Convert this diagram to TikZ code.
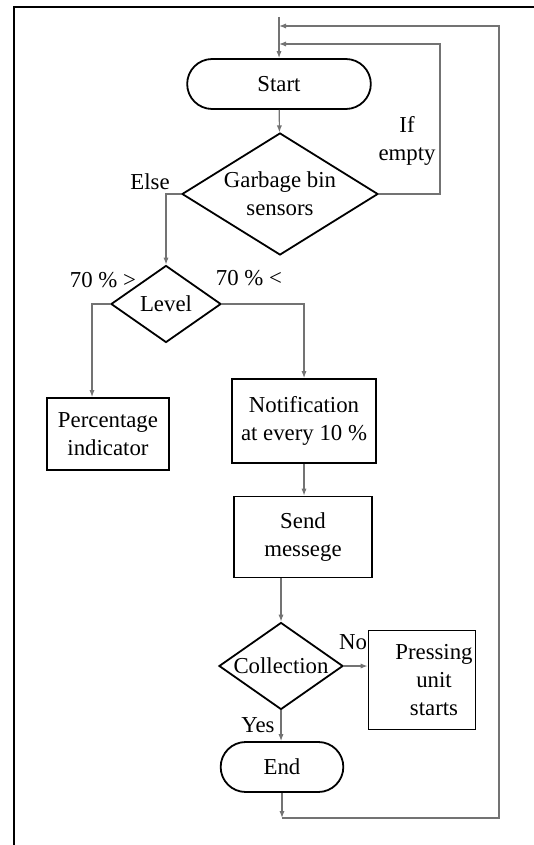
\documentclass[tikz,border=0pt]{standalone}
\usepackage{fontspec}
\setmainfont{Liberation Serif}
\usetikzlibrary{shapes.geometric,shapes.misc,arrows.meta}
\begin{document}
\begin{tikzpicture}[x=0.5pt, y=-0.5pt,
    every node/.style={font=\fontsize{11.4}{14}\selectfont, align=center},
    term/.style={rounded rectangle, draw, line width=0.9pt, minimum height=25pt},
    decision/.style={diamond, draw, line width=0.9pt, inner sep=0pt},
    proc/.style={rectangle, draw, line width=0.9pt},
    flow/.style={draw=black!55, line width=0.6pt},
    tip/.style={-{Latex[length=3.5pt,width=2.6pt]}}]
    \useasboundingbox (0,0) rectangle (534,845);
    \draw[line width=1.3pt] (14,845) -- (14,7) -- (534,7);
    % shapes
    \node[term, minimum width=98.5pt] (start) at (279,84) {Start};
    \node[decision, minimum width=98pt, minimum height=61pt, aspect=1.6] (sensors) at (280,194) {Garbage bin\\sensors};
    \node[decision, minimum width=55pt, minimum height=38.5pt] (level) at (166,304) {Level};
    \node[proc, minimum width=61pt, minimum height=36pt] (percent) at (108,434) {Percentage\\indicator};
    \node[proc, minimum width=72pt, minimum height=42pt] (notif) at (304,421) {Notification\\at every 10 \%};
    \node[proc, minimum width=69pt, minimum height=40.5pt] (send) at (303,537) {Send\\messege};
    \node[decision, minimum width=62pt, minimum height=43.5pt, inner sep=-4pt] (collect) at (281,666) {Collection};
    \node[proc, minimum width=53.5pt, minimum height=49.5pt, inner xsep=0pt] (press) at (422,680)
        {\hspace*{12pt}Pressing\\\hspace*{12pt}unit\\\hspace*{12pt}starts};
    \node[term, minimum width=68pt] (end) at (282,767) {End};
    % labels
    \foreach \name/\pos/\txt in {lelse/{150,182}/Else, lempty/{407,141}/{If\\empty},
        lless/{103,280}/{70 \% >}, lmore/{249,278}/{70 \% <},
        lno/{353,642}/No, lyes/{258,725}/Yes} {
        \node (\name) at (\pos) {\txt};
    }
    % loops back to the top
    \coordinate (top) at (279,17);
    \coordinate (in1) at (279,26);
    \coordinate (in2) at (279,44);
    \coordinate (e1) at (282,818);
    \coordinate (r1) at (499,818);
    \coordinate (r2) at (499,26);
    \coordinate (q1) at (440,194);
    \coordinate (q2) at (440,44);
    \draw[flow, tip] (top) -- (start.north);
    \draw[flow, tip] (end.south) -- (e1);
    \draw[flow, tip] (e1) -- (r1) -- (r2) -- (in1);
    \draw[flow, tip] (sensors.east) -- (q1) -- (q2) -- (in2);
    % main flow
    \draw[flow, tip] (start) -- (sensors);
    \draw[flow, tip] (sensors.west) -| (level.north);
    \draw[flow, tip] (level.west) -| ([xshift=-8pt]percent.north);
    \draw[flow, tip] (level.east) -| (notif.north);
    \draw[flow, tip] (notif.south) -- (notif.south |- send.north);
    \draw[flow, tip] (collect.north |- send.south) -- (collect.north);
    \draw[flow, tip] (collect.east) -- (collect.east -| press.west);
    \draw[flow, tip] (collect.south) -- (collect.south |- end.north);
\end{tikzpicture}
\end{document}
